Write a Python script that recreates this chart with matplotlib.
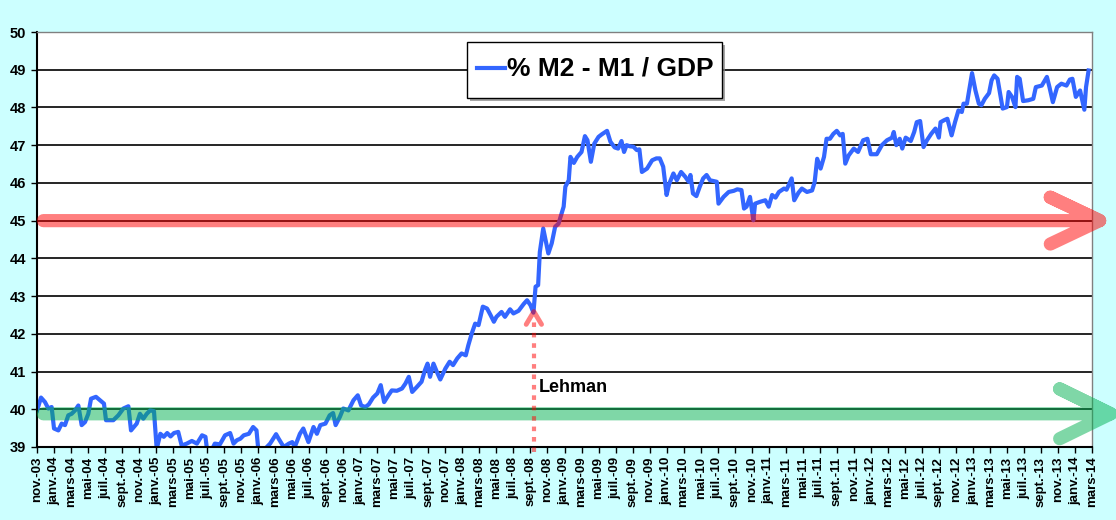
import matplotlib
matplotlib.use("Agg")
import matplotlib.pyplot as plt
from matplotlib.patches import Rectangle
from matplotlib.lines import Line2D

plt.rcParams['font.family'] = ['Liberation Sans', 'DejaVu Sans']

# months counted from nov. 2003 (0) to mars 2014 (124)
months = [
    0.0, 0.47, 0.94, 1.33, 1.72, 2.0, 2.51, 2.9, 3.29, 3.68, 4.07, 4.47, 4.86, 5.25, 5.64,
    6.03, 6.35, 6.93, 7.4, 7.87, 8.11, 8.97, 9.56, 10.15, 10.74, 11.05, 11.72, 12.1, 12.5,
    12.9, 13.3, 13.75, 14.07, 14.5, 14.9, 15.3, 15.7, 16.1, 16.6, 17.0, 17.6, 18.2, 18.8,
    19.4, 19.8, 20.0, 20.5, 20.9, 21.5, 22.1, 22.7, 23.1, 23.5, 23.9, 24.3, 24.9, 25.4,
    25.8, 26.0, 26.8, 27.4, 28.1, 28.4, 29.0, 29.6, 30.0, 30.3, 30.9, 31.3, 31.9, 32.5,
    32.9, 33.3, 33.9, 34.4, 34.8, 35.1, 35.6, 36.0, 36.6, 37.2, 37.7, 38.1, 38.6, 39.0,
    39.5, 40.0, 40.4, 40.8, 41.3, 41.7, 42.3, 42.9, 43.3, 43.7, 44.1, 44.6, 45.2, 45.6,
    45.9, 46.2, 46.6, 47.0, 47.4, 48.0, 48.5, 48.9, 49.4, 49.9, 50.4, 50.7, 51.1, 51.5,
    51.9, 52.4, 52.9, 53.3, 53.7, 54.0, 54.6, 55.0, 55.6, 56.0, 56.6, 57.2, 57.6, 58.0,
    58.35, 58.6, 58.9, 59.1, 59.5, 60.1, 60.5, 60.9, 61.3, 61.9, 62.1, 62.5, 62.7, 63.1,
    63.5, 64.0, 64.4, 64.7, 65.1, 65.5, 66.0, 66.4, 67.0, 67.4, 67.9, 68.3, 68.7, 69.0,
    69.3, 69.7, 70.1, 70.5, 70.8, 71.1, 71.7, 72.3, 72.8, 73.2, 73.6, 74.0, 74.3, 74.8,
    75.2, 75.7, 76.2, 76.6, 76.8, 77.1, 77.5, 77.9, 78.3, 78.7, 79.1, 79.9, 80.1, 80.7,
    81.3, 81.9, 82.3, 82.8, 83.1, 83.4, 83.8, 84.2, 84.4, 85.0, 85.6, 86.0, 86.4, 86.8,
    87.2, 87.8, 88.1, 88.7, 89.0, 89.5, 89.9, 90.5, 91.1, 91.4, 91.7, 92.1, 92.5, 92.8,
    93.2, 93.6, 94.0, 94.4, 94.7, 95.0, 95.4, 96.0, 96.5, 97.1, 97.6, 98.0, 98.7, 99.3,
    99.9, 100.5, 100.7, 101.0, 101.4, 101.7, 102.1, 102.7, 103.1, 103.4, 103.8, 104.2,
    104.6, 105.1, 105.6, 106.0, 106.2, 106.6, 107.0, 107.5, 107.9, 108.3, 108.7, 108.9,
    109.3, 109.6, 109.9, 110.3, 110.7, 111.0, 111.4, 111.9, 112.2, 112.5, 112.9, 113.2,
    113.5, 114.0, 114.2, 114.6, 115.0, 115.2, 115.5, 115.9, 116.5, 117.1, 117.4, 118.1,
    118.7, 119.0, 119.4, 119.9, 120.4, 121.0, 121.4, 121.7, 122.1, 122.6, 123.1, 123.3,
    123.6,
]
m2_m1_gdp = [
    39.96, 40.31, 40.19, 40.02, 40.06, 39.49, 39.44, 39.62, 39.58, 39.84, 39.88, 39.97,
    40.10, 39.58, 39.66, 39.88, 40.28, 40.33, 40.24, 40.15, 39.71, 39.71, 39.84, 40.02,
    40.08, 39.44, 39.62, 39.88, 39.75, 39.88, 39.97, 39.95, 38.95, 39.35, 39.27, 39.37,
    39.28, 39.37, 39.40, 39.04, 39.09, 39.16, 39.09, 39.31, 39.27, 38.90, 38.90, 39.09,
    39.07, 39.31, 39.37, 39.09, 39.18, 39.22, 39.31, 39.35, 39.53, 39.44, 38.95, 38.95,
    39.09, 39.34, 39.22, 39.00, 39.09, 39.13, 39.00, 39.35, 39.49, 39.13, 39.53, 39.35,
    39.58, 39.62, 39.84, 39.90, 39.58, 39.80, 40.02, 39.97, 40.24, 40.37, 40.10, 40.06,
    40.13, 40.31, 40.42, 40.64, 40.19, 40.37, 40.50, 40.49, 40.55, 40.68, 40.86, 40.46,
    40.58, 40.73, 41.04, 41.21, 40.86, 41.21, 40.99, 40.79, 41.08, 41.26, 41.17, 41.35,
    41.48, 41.43, 41.70, 42.01, 42.27, 42.23, 42.72, 42.67, 42.50, 42.32, 42.45, 42.58,
    42.45, 42.65, 42.54, 42.61, 42.79, 42.89, 42.76, 42.56, 43.25, 43.29, 44.17, 44.79,
    44.13, 44.40, 44.84, 44.92, 45.37, 45.90, 46.07, 46.69, 46.53, 46.69, 46.82, 47.24,
    47.13, 46.56, 47.04, 47.22, 47.29, 47.38, 47.09, 46.94, 46.91, 47.11, 46.82, 47.00,
    46.97, 46.96, 46.87, 46.89, 46.29, 46.38, 46.60, 46.65, 46.65, 46.43, 45.68, 45.97,
    46.25, 46.07, 46.29, 46.16, 46.03, 46.21, 45.72, 45.65, 45.90, 46.12, 46.21, 46.07,
    46.03, 45.45, 45.63, 45.76, 45.79, 45.83, 45.81, 45.32, 45.37, 45.63, 45.01, 45.45,
    45.50, 45.54, 45.37, 45.68, 45.61, 45.76, 45.85, 45.82, 46.12, 45.54, 45.74, 45.85,
    45.76, 45.80, 46.02, 46.64, 46.38, 46.69, 47.17, 47.17, 47.30, 47.38, 47.26, 47.30,
    46.51, 46.73, 46.91, 46.82, 47.13, 47.17, 46.76, 46.76, 47.00, 47.13, 47.20, 47.35,
    47.00, 47.17, 46.91, 47.20, 47.11, 47.35, 47.61, 47.64, 46.95, 47.13, 47.30, 47.44,
    47.20, 47.61, 47.66, 47.70, 47.26, 47.61, 47.92, 47.88, 48.10, 48.10, 48.50, 48.91,
    48.45, 48.10, 48.06, 48.23, 48.38, 48.72, 48.85, 48.76, 48.36, 47.97, 48.01, 48.41,
    48.28, 48.01, 48.81, 48.76, 48.17, 48.19, 48.23, 48.54, 48.58, 48.81, 48.54, 48.14,
    48.54, 48.63, 48.58, 48.74, 48.76, 48.28, 48.45, 47.94, 48.54, 48.98,
]
series_name = '% M2 - M1 / GDP'

month_names = ['janv.', 'févr.', 'mars', 'avr.', 'mai', 'juin',
               'juil.', 'août', 'sept.', 'oct.', 'nov.', 'déc.']
tick_months = list(range(0, 125, 2))
tick_labels = []
for t in tick_months:
    k = 10 + t  # nov. 2003 is month index 10 of 2003
    tick_labels.append("%s-%02d" % (month_names[k % 12], (3 + k // 12) % 100))

upper_level = 45
lower_level = 39.88
lehman_month = 58.4
lehman_value = 42.59

W, H = 1116, 520
fig = plt.figure(figsize=(W / 100, H / 100), dpi=100, facecolor='#CCFFFF')
ax = fig.add_axes([37 / W, 1 - 447 / H, 1055 / W, 415 / H])
ax.set_facecolor('white')

ax.set_xlim(0, 124)
ax.set_ylim(39, 50)
ax.set_yticks(range(39, 51))
for yv in range(40, 50):
    ax.axhline(yv, color='black', lw=1.2, zorder=1)

ax.plot(months, m2_m1_gdp, color='#3366FF', lw=3.0, zorder=2, solid_joinstyle='round')

# big arrows (one path each, so the transparent stroke stays uniform)
def level_arrow(level, start, tip, arm_dx, arm_dy, color):
    xs = [start, tip, tip - arm_dx, tip, tip - arm_dx]
    ys = [level, level, level + arm_dy, level, level - arm_dy]
    ax.plot(xs, ys, color=color, alpha=0.5, lw=9.5, clip_on=False, zorder=3,
            solid_capstyle='round', solid_joinstyle='round')

level_arrow(upper_level, 0.75, 124.9, 5.8, 0.62, '#FF0000')
level_arrow(lower_level, 0.75, 126.2, 6.0, 0.66, '#00B050')

# Lehman marker
ax.plot([lehman_month, lehman_month], [38.88, lehman_value - 0.25], color='#FF0000',
        alpha=0.5, lw=3.0, dashes=(1.1, 1.4), clip_on=False, zorder=3)
ax.plot([lehman_month - 0.9, lehman_month, lehman_month + 0.9],
        [lehman_value - 0.34, lehman_value, lehman_value - 0.34],
        color='#FF0000', alpha=0.5, lw=3.5, solid_capstyle='round', zorder=3)
ax.text(lehman_month + 0.55, 40.57, 'Lehman', fontsize=13, fontweight='bold',
        ha='left', va='center', zorder=4)

ax.set_xticks(tick_months)
ax.set_xticklabels(tick_labels, rotation=90, fontsize=9.5, fontweight='bold')
ax.set_yticklabels([str(v) for v in range(39, 51)], fontsize=10.5, fontweight='bold')
ax.tick_params(axis='x', direction='out', length=4, width=1, pad=3)
ax.tick_params(axis='y', direction='out', length=4, width=1, pad=4)

ax.spines['left'].set_linewidth(1.5)
ax.spines['bottom'].set_linewidth(1.5)
for s in ('top', 'right'):
    ax.spines[s].set_color('#808080')
    ax.spines[s].set_linewidth(1.0)

# legend box drawn by hand (pixel positions from the top-left corner)
def fx(px):
    return px / W

def fy(py):
    return 1 - py / H

box_l, box_t, box_r, box_b = 467, 42, 722, 98
fig.patches.append(Rectangle((fx(box_l + 3), fy(box_b + 3)), fx(box_r - box_l), (box_b - box_t) / H,
                             transform=fig.transFigure, facecolor='#808080', alpha=0.7,
                             edgecolor='none', zorder=5))
fig.patches.append(Rectangle((fx(box_l), fy(box_b)), fx(box_r - box_l), (box_b - box_t) / H,
                             transform=fig.transFigure, facecolor='white',
                             edgecolor='black', lw=1.0, zorder=6))
fig.lines.append(Line2D([fx(477), fx(505)], [fy(68), fy(68)], transform=fig.transFigure,
                        color='#3366FF', lw=3.0, zorder=7))
fig.text(fx(507), fy(69), series_name, fontsize=19, fontweight='bold',
         ha='left', va='center', zorder=7)

fig.savefig('out.png', dpi=100, facecolor=fig.get_facecolor())
